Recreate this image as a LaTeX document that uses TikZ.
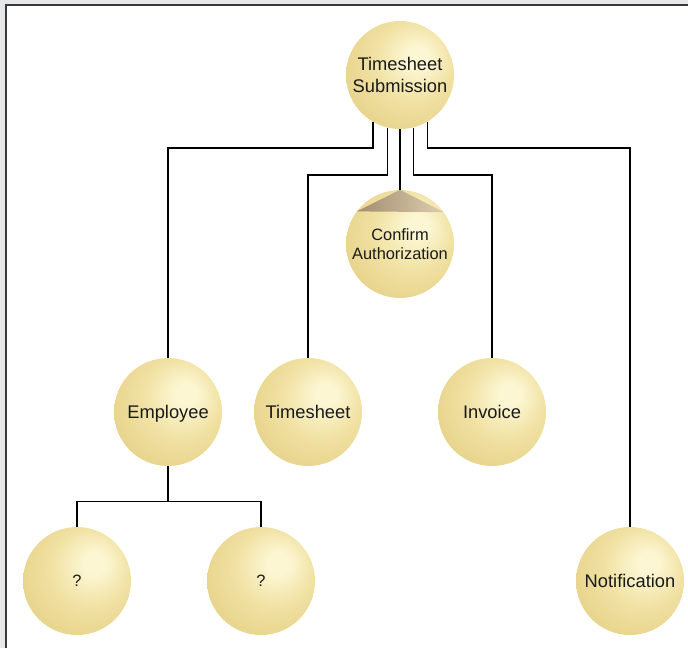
\documentclass[tikz,border=0pt]{standalone}
\usepackage{fontspec}
\setmainfont{Liberation Sans}
\definecolor{bgray}{HTML}{E6E7E8}
\definecolor{frame}{HTML}{3A3A3A}
\definecolor{hl}{HTML}{FCF6D2}
\definecolor{midc}{HTML}{F1E2A4}
\definecolor{edgec}{HTML}{E7D38B}
\definecolor{txt}{HTML}{1A1A1A}
\definecolor{brdark}{HTML}{A38D70}
\definecolor{brlight}{HTML}{DDCDAE}
\pgfdeclareradialshading{goldball}{\pgfpoint{9bp}{9bp}}{%
  color(0bp)=(hl); color(5bp)=(hl); color(18bp)=(midc); color(32bp)=(edgec); color(60bp)=(edgec)}
\tikzset{
  ball/.style={circle, minimum size=108pt, inner sep=0pt, shading=goldball, align=center,
    text=txt, font=\fontsize{18.3}{21.7}\selectfont},
  smallball/.style={ball, font=\fontsize{16.4}{19}\selectfont},
  oneline/.style={text height=13.1pt, text depth=0pt},
  oneq/.style={text height=11.8pt, text depth=0pt},
  conn/.style={draw=black, line width=1.2pt}
}
\begin{document}
\begin{tikzpicture}[x=1pt,y=-1pt]
\useasboundingbox (0,0) rectangle (688,648);
\fill[bgray] (0,0) rectangle (688,648);
\fill[white] (6,5) rectangle (688,648);
\draw[frame, line width=2pt] (6,648) -- (6,5) -- (688,5);

\node[ball] (ts) at (400,75) {Timesheet\\Submission};
\node[smallball] (ca) at (400,244) {Confirm\\Authorization};
\node[ball, oneline] (emp) at (168,412) {Employee};
\node[ball, oneline] (tsh) at (308,412) {Timesheet};
\node[ball, oneline] (inv) at (492,412) {Invoice};
\node[ball, oneline] (noti) at (630,581) {Notification};
\node[smallball, oneq] (q1) at (77,581) {?};
\node[smallball, oneq] (q2) at (261,581) {?};

% pyramid cap on Confirm Authorization
\coordinate (capL) at (ca.{180-36.7});
\coordinate (capR) at (ca.{36.7});
\shade[left color=brdark, right color=brlight] (ca.north) -- (capL) -- (capR) -- cycle;

\coordinate (j1) at (0,148);
\coordinate (j2) at (0,175);
\draw[conn] (ts.-120) |- (j1 -| emp.north) -- (emp.north);
\draw[conn] (ts.{-103.9}) |- (j2 -| tsh.north) -- (tsh.north);
\draw[conn] (ts.south) -- (ca.north);
\draw[conn] (ts.{-76.1}) |- (j2 -| inv.north) -- (inv.north);
\draw[conn] (ts.-60) |- (j1 -| noti.north) -- (noti.north);
\draw[conn] (emp.south) -- ++(0,35) -| (q1.north);
\draw[conn] (emp.south) -- ++(0,35) -| (q2.north);
\end{tikzpicture}
\end{document}
